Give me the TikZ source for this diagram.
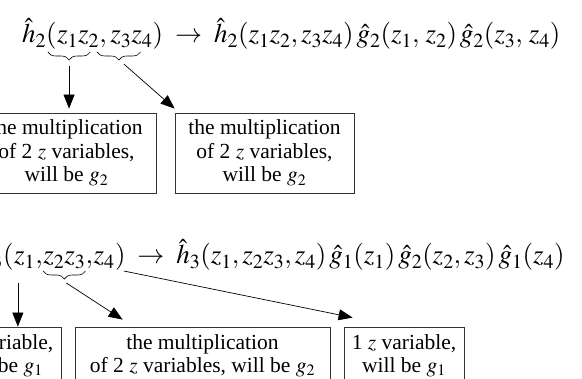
\documentclass[tikz,border=0pt]{standalone}
\usepackage{mathptmx}
\usepackage[no-math]{fontspec}
\setmainfont{Liberation Serif}
\usetikzlibrary{calc, decorations.pathreplacing, arrows.meta}
\tikzset{
    gl/.style={inner sep=0pt, anchor=base west, font=\fontsize{27}{30}\selectfont},
    kasten/.style={draw=black!80, line width=0.8pt, align=center, inner sep=0pt,
        font=\fontsize{21.5}{23.5}\selectfont},
    klammer/.style={decorate, decoration={brace, mirror, amplitude=8pt}, line width=0.6pt},
    pfeil/.style={-{Triangle[length=14pt, width=11pt]}, line width=0.7pt},
}

\begin{document}
\begin{tikzpicture}[x=1pt, y=-1pt]
\useasboundingbox (0,0) rectangle (582,379);
\clip (0,0) rectangle (582,379);

% Gleichung oben
\node[gl] (h2) at (22,43) {$\hat{h}_2($};
\node[gl] (z12) at (h2.base east) {$z_1z_2$};
\node[gl] (ko) at (z12.base east) {$,$};
\node[gl] (z34) at (ko.base east) {$\,z_3z_4$};
\node[gl] (reo) at (z34.base east)
    {$)\;\rightarrow\;\hat{h}_2(z_1z_2,z_3z_4)\,\hat{g}_2(z_1,\,z_2)\,\hat{g}_2(z_3,\,z_4)$};

% Klammern oben
\draw[klammer] ($(z12.base west)+(-9,9)$) -- ($(z12.base east)+(-9,9)$) coordinate[midway] (mo1);
\draw[klammer] ($(z34.base west)+(-10,9)$) -- ($(z34.base east)+(-12,9)$) coordinate[midway] (mo2);

% Kaesten oben
\node[kasten, minimum width=179pt, minimum height=80pt] (o1) at (66.5,153)
    {the multiplication\\of 2 $z$ variables,\\will be $g_2$};
\node[kasten, minimum width=179pt, minimum height=80pt] (o2) at (264.5,153)
    {the multiplication\\of 2 $z$ variables,\\will be $g_2$};

% Pfeile oben
\coordinate (so1) at ($(mo1)+(0,14)$);
\coordinate (so2) at ($(mo2)+(5,12)$);
\coordinate (eo1) at ($(so1 |- o1.north)+(0,-4)$);
\coordinate (eo2) at ($(o2.north west)+(0,-4)$);
\draw[pfeil] (so1) -- (eo1);
\draw[pfeil] (so2) -- (eo2);

% Gleichung unten
\node[gl, anchor=base east] (h3) at (3,264) {$\hat{h}_3$};
\node[gl] (ku) at (h3.base east) {$($};
\node[gl] (z1) at (ku.base east) {$z_1$};
\node[gl] (k1) at (z1.base east) {$,$};
\node[gl] (z23) at (k1.base east) {$z_2z_3$};
\node[gl] (k2) at (z23.base east) {$,$};
\node[gl] (z4) at (k2.base east) {$z_4$};
\node[gl] (reu) at (z4.base east)
    {$)\;\rightarrow\;\hat{h}_3(z_1,z_2z_3,z_4)\,\hat{g}_1(z_1)\,\hat{g}_2(z_2,z_3)\,\hat{g}_1(z_4)$};

% Klammer unten
\draw[klammer] ($(z23.base west)+(0,7)$) -- ($(z23.base east)+(0,7)$) coordinate[midway] (mu);

% Kaesten unten
\node[kasten, minimum width=120pt, minimum height=57pt] (u1) at (1,355.5)
    {1 $z$ variable,\\will be $g_1$};
\node[kasten, minimum width=255pt, minimum height=57pt] (u2) at (202.5,355.5)
    {the multiplication\\of 2 $z$ variables, will be $g_2$};
\node[kasten, minimum width=120pt, minimum height=57pt] (u3) at (404,355.5)
    {1 $z$ variable,\\will be $g_1$};

% Pfeile unten
\coordinate (su1) at ($(z1.base west)+(4,19)$);
\coordinate (su2) at ($(mu)+(2,12)$);
\coordinate (su3) at ($(z4.base east)+(9,7)$);
\draw[pfeil] (su1) -- (su1 |- u1.north) coordinate (eu1);
\draw[pfeil] (su2) -- ($(u2.north west)+(48,-7)$) coordinate (eu2);
\draw[pfeil] (su3) -- ($(u3.north west)+(9,-9)$) coordinate (eu3);
\end{tikzpicture}
\end{document}
